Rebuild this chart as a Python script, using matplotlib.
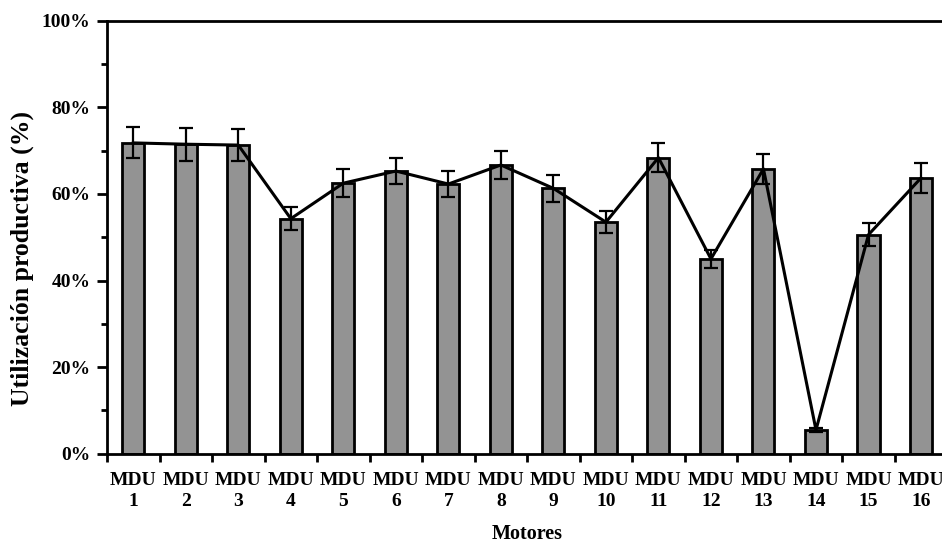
import matplotlib
matplotlib.use("Agg")
import matplotlib.pyplot as plt
from matplotlib.ticker import MultipleLocator, PercentFormatter
import numpy as np

# datos (utilizacion productiva por motor, %)
motores = ["MDU\n%d" % i for i in range(1, 17)]
utilizacion = [71.8, 71.5, 71.3, 54.3, 62.5, 65.3, 62.3, 66.7,
               61.3, 53.5, 68.4, 45.0, 65.8, 5.5, 50.6, 63.7]
error = [3.6, 3.8, 3.6, 2.6, 3.2, 3.1, 2.9, 3.2,
         3.1, 2.6, 3.4, 2.1, 3.5, 0.5, 2.6, 3.4]

plt.rcParams['font.family'] = ['Liberation Serif', 'DejaVu Serif']
plt.rcParams['font.weight'] = 'bold'

fig = plt.figure(figsize=(9.42, 5.48), dpi=100)
ax = fig.add_axes([0.1136, 0.172, 0.892, 0.79])

x = np.arange(len(motores)) + 0.5
ax.bar(x, utilizacion, width=0.42, color="#939393", edgecolor="black",
       linewidth=2, zorder=2)
ax.errorbar(x, utilizacion, yerr=error, fmt="none", ecolor="black",
            elinewidth=1.6, capsize=5, capthick=1.6, zorder=3)
ax.plot(x, utilizacion, color="black", linewidth=2.2, zorder=4)

ax.set_xlim(0, len(motores))
ax.set_ylim(0, 100)
ax.set_xticks(np.arange(len(motores) + 1))
ax.set_xticklabels([])
ax.set_xticks(x, minor=True)
ax.set_xticklabels(motores, minor=True, fontsize=14, fontweight='bold',
                   linespacing=1.3)
ax.tick_params(axis='x', which='minor', length=0, pad=13)
ax.tick_params(axis='x', which='major', direction='out', length=6, width=2)

ax.yaxis.set_major_locator(MultipleLocator(20))
ax.yaxis.set_minor_locator(MultipleLocator(10))
ax.yaxis.set_major_formatter(PercentFormatter(decimals=0))
ax.tick_params(axis='y', which='major', direction='out', length=7, width=2,
               labelsize=14, pad=5)
ax.tick_params(axis='y', which='minor', direction='out', length=4, width=2)

for s in ax.spines.values():
    s.set_linewidth(2)

fig.text(22 / 942, 1 - 258 / 548, "Utilización productiva (%)", rotation=90,
         ha='center', va='center', fontsize=18.5, fontweight='bold')
ax.set_xlabel("Motores", fontsize=14.5, fontweight='bold', labelpad=10)

fig.savefig("out.png", dpi=100)
